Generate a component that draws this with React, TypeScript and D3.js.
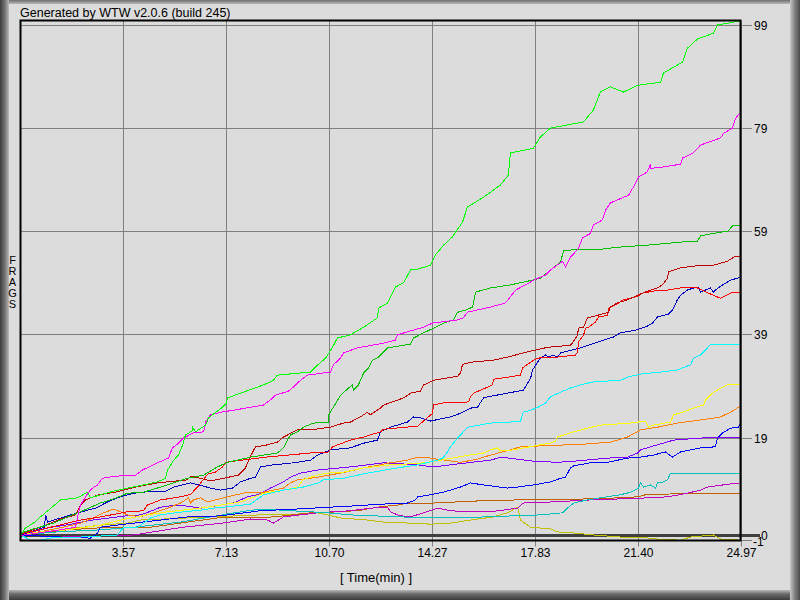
import React from 'react';
import * as d3 from 'd3';

type Pt = [number, number];

const timeTicks = [3.57, 7.13, 10.7, 14.27, 17.83, 21.4, 24.97];
const fragTicks = [99, 79, 59, 39, 19];
const timeMax = 24.97;

const brightGreenData: Pt[] = [
  [0, 0], [0.17, 1.45], [0.45, 2.4], [0.69, 3.6], [1.14, 5.7], [1.39, 6.9], [1.98, 7.3], [2.32, 8.4], [2.43, 7.3],
  [2.77, 7.9], [3.23, 8.6], [3.71, 9.2], [4.27, 9.8], [4.75, 10.4], [5.03, 11.1], [5.1, 12.7], [5.31, 14.6],
  [5.48, 15.6], [5.62, 17.5], [5.72, 19.5], [5.96, 20.3], [5.97, 21.0], [6.07, 20.1], [6.42, 21.4], [6.52, 22.8],
  [7.01, 24.9], [7.14, 25.7], [7.18, 26.7], [8.43, 29.2], [8.77, 30.1], [8.91, 31.1], [10.06, 31.7], [10.23, 32.7],
  [10.58, 34.4], [10.82, 36.5], [10.99, 38.3], [11.44, 38.9], [11.9, 40.4], [12.38, 42.2], [12.42, 44.1],
  [12.73, 45.1], [13.01, 48.2], [13.28, 49.0], [13.53, 51.5], [13.8, 51.7], [14.22, 52.4], [14.39, 54.4],
  [14.67, 56.3], [14.98, 57.9], [15.33, 60.8], [15.5, 63.7], [16.06, 65.6], [16.65, 68.0], [16.92, 69.9],
  [16.99, 74.2], [17.79, 75.1], [18.03, 77.3], [18.38, 79.0], [19.52, 80.2], [19.87, 82.5], [20.11, 86.0],
  [20.46, 87.0], [20.91, 86.0], [21.4, 87.3], [22.2, 87.9], [22.3, 89.7], [22.96, 91.8], [23.13, 94.5],
  [23.48, 96.3], [24.03, 97.4], [24.17, 99.0], [24.97, 99.8],
];

const magentaData: Pt[] = [
  [0, 0], [1.39, 1.1], [1.91, 1.6], [1.98, 3.6], [2.08, 5.9], [2.36, 8.4], [2.5, 9.2], [2.67, 9.8], [2.84, 11.1],
  [3.29, 11.5], [3.99, 11.7], [4.23, 12.7], [4.79, 14.2], [5.13, 15.0], [5.27, 17.0], [5.48, 17.9], [5.65, 18.9],
  [6.0, 19.9], [6.35, 20.1], [6.42, 22.0], [6.59, 23.4], [6.94, 23.9], [7.39, 24.3], [8.43, 25.3], [8.67, 26.3],
  [8.84, 27.2], [9.29, 28.0], [9.47, 28.8], [9.71, 30.1], [9.95, 31.1], [10.75, 31.7], [10.85, 33.1], [11.1, 34.4],
  [11.2, 35.4], [11.69, 36.4], [12.59, 37.3], [13.0, 37.9], [13.07, 38.9], [13.42, 39.5], [13.98, 40.4],
  [14.29, 41.2], [15.16, 41.8], [15.36, 42.2], [15.5, 43.3], [16.3, 44.3], [16.82, 45.1], [17.17, 47.6],
  [17.51, 48.6], [17.86, 49.7], [18.21, 50.5], [18.38, 51.5], [18.8, 53.2], [18.9, 52.1], [19.07, 54.0],
  [19.18, 54.6], [19.35, 55.7], [19.49, 57.7], [19.77, 58.6], [19.87, 60.2], [20.18, 61.2], [20.29, 63.1],
  [20.46, 64.5], [21.09, 66.0], [21.33, 68.3], [21.43, 69.5], [21.74, 70.5], [21.85, 72.0], [21.86, 71.2],
  [22.2, 71.4], [22.89, 72.0], [22.96, 73.2], [23.34, 74.2], [23.58, 75.7], [24.28, 77.1], [24.38, 78.0],
  [24.69, 79.0], [24.8, 80.9], [24.97, 82.1],
];

const darkGreenData: Pt[] = [
  [0, 0.5], [0.59, 1.5], [1.14, 2.4], [1.63, 3.6], [2.08, 4.6], [2.77, 6.3], [3.23, 7.1], [3.71, 8.2], [4.27, 8.4],
  [5.1, 9.8], [5.79, 11.1], [6.35, 11.7], [6.83, 13.3], [7.18, 14.2], [7.98, 15.2], [8.91, 16.0], [9.12, 17.0],
  [9.36, 19.5], [9.61, 20.1], [9.81, 21.0], [10.16, 21.8], [10.68, 22.0], [10.69, 23.4], [10.85, 24.9],
  [11.1, 27.2], [11.38, 28.6], [11.51, 29.2], [11.55, 28.2], [11.72, 29.2], [11.9, 31.5], [12.07, 32.5],
  [12.21, 34.0], [12.42, 34.6], [12.73, 36.4], [13.53, 37.1], [13.63, 38.3], [13.98, 39.3], [14.32, 40.2],
  [14.67, 41.2], [15.02, 41.8], [15.16, 43.3], [15.43, 43.7], [15.68, 44.3], [15.78, 47.2], [16.3, 48.0],
  [16.99, 48.6], [17.58, 49.3], [18.03, 49.9], [18.38, 51.5], [18.73, 53.0], [18.83, 55.2], [19.14, 55.4],
  [20.11, 55.5], [20.7, 55.9], [21.74, 56.3], [22.89, 56.9], [23.48, 57.1], [23.58, 58.1], [24.03, 58.6],
  [24.52, 59.0], [24.73, 60.2], [24.97, 60.2],
];

const darkRedData: Pt[] = [
  [0, 0.3], [0.69, 1.6], [1.39, 3.2], [1.91, 4.0], [2.08, 5.9], [2.25, 6.9], [2.71, 7.9], [3.29, 8.4], [3.99, 9.4],
  [4.75, 10.2], [5.79, 10.8], [5.9, 11.5], [6.24, 11.1], [6.59, 10.6], [7.21, 11.3], [7.56, 11.7], [7.8, 13.1],
  [7.98, 15.4], [8.15, 17.2], [8.5, 17.5], [8.91, 18.1], [9.12, 19.1], [9.61, 20.5], [10.06, 20.5], [10.75, 21.0],
  [11.2, 21.8], [11.44, 22.0], [11.79, 23.0], [12.03, 23.9], [12.14, 23.4], [12.21, 23.7], [12.48, 24.7],
  [12.59, 25.3], [13.11, 26.3], [13.35, 26.9], [13.53, 27.6], [13.87, 28.0], [13.98, 29.2], [14.22, 29.8],
  [14.32, 30.1], [15.16, 30.9], [15.26, 31.5], [15.33, 33.2], [15.61, 33.6], [16.4, 34.0], [16.89, 34.6],
  [17.58, 35.6], [18.28, 36.5], [19.07, 36.9], [19.14, 37.3], [19.32, 38.9], [19.35, 40.2], [19.53, 40.4],
  [19.66, 42.2], [20.01, 42.7], [20.39, 43.3], [20.46, 44.3], [20.7, 45.1], [21.05, 45.7], [21.4, 46.6],
  [21.85, 47.6], [22.09, 48.0], [22.26, 48.6], [22.44, 49.9], [22.47, 51.1], [22.89, 51.9], [23.58, 52.4],
  [24.03, 52.4], [24.52, 53.2], [24.8, 54.2], [24.97, 54.2],
];

const redData: Pt[] = [
  [0, 0.3], [1.04, 1.6], [2.08, 3.0], [2.77, 3.6], [3.71, 4.6], [4.27, 4.8], [4.4, 5.9], [4.86, 6.9], [5.55, 7.5],
  [5.9, 8.0], [6.14, 9.4], [6.49, 11.9], [6.76, 12.3], [7.01, 13.3], [7.11, 14.2], [8.5, 15.2], [10.06, 16.0],
  [10.68, 16.2], [10.82, 17.2], [11.44, 18.5], [11.9, 19.1], [12.48, 20.1], [12.59, 20.6], [13.77, 21.2],
  [13.94, 22.0], [14.29, 23.7], [14.32, 25.3], [14.67, 25.7], [15.54, 25.9], [15.61, 26.9], [15.71, 27.6],
  [16.37, 29.2], [16.4, 30.3], [16.89, 30.7], [17.34, 31.1], [17.41, 32.5], [17.69, 33.6], [17.93, 34.4],
  [18.62, 34.6], [19.25, 35.0], [19.32, 35.6], [19.35, 37.5], [19.53, 38.9], [19.59, 40.2], [19.7, 40.4],
  [19.94, 41.4], [20.05, 42.4], [20.36, 42.7], [20.39, 44.1], [20.63, 44.7], [20.91, 45.7], [21.4, 46.4],
  [21.57, 47.0], [21.95, 47.4], [22.44, 47.6], [22.89, 48.0], [23.48, 48.0], [23.86, 47.0], [24.28, 46.0],
  [24.69, 47.2], [24.97, 47.2],
];

const blueData: Pt[] = [
  [0, 0.1], [0.83, 1.6], [0.87, 4.0], [0.94, 2.6], [1.28, 3.2], [1.98, 4.4], [2.6, 5.3], [3.02, 6.5], [3.36, 7.3],
  [3.71, 7.9], [4.16, 8.4], [5.03, 8.6], [5.31, 9.4], [5.9, 10.2], [6.59, 9.2], [6.94, 8.8], [7.35, 9.2],
  [7.63, 10.4], [7.98, 11.1], [8.15, 11.3], [8.32, 13.3], [8.77, 13.7], [9.47, 14.1], [10.06, 14.6], [10.3, 15.6],
  [10.75, 16.6], [11.44, 17.0], [11.9, 17.9], [12.38, 18.5], [12.48, 20.1], [12.83, 21.0], [13.42, 22.0],
  [13.63, 23.0], [13.87, 22.8], [14.22, 22.2], [14.57, 22.6], [14.91, 23.0], [15.26, 23.7], [15.61, 24.7],
  [15.85, 24.9], [16.06, 26.7], [16.2, 26.9], [16.89, 27.6], [17.44, 28.2], [17.69, 30.5], [17.76, 32.1],
  [17.93, 33.6], [18.03, 34.4], [18.21, 35.0], [18.31, 34.6], [18.48, 35.0], [18.62, 34.6], [18.73, 35.4],
  [19.42, 36.4], [20.01, 37.5], [20.57, 38.5], [20.81, 39.3], [21.33, 39.8], [21.74, 40.6], [21.92, 41.2],
  [22.09, 42.4], [22.47, 42.9], [22.61, 43.7], [22.78, 45.7], [22.89, 46.6], [23.13, 47.6], [23.34, 48.0],
  [23.51, 48.0], [23.58, 47.2], [23.93, 48.0], [24.03, 47.2], [24.1, 47.6], [24.35, 48.6], [24.62, 49.5],
  [24.97, 50.1],
];

const cyanData: Pt[] = [
  [0, 0.1], [0.35, -0.9], [0.69, -0.9], [1.21, -0.3], [2.08, -0.3], [2.77, -0.1], [3.36, 0.1], [3.57, 1.5],
  [4.06, 1.6], [4.27, 2.4], [4.51, 3.4], [4.86, 4.0], [5.65, 4.6], [6.24, 4.9], [6.69, 5.3], [7.39, 5.7],
  [7.98, 6.1], [8.43, 7.9], [9.12, 8.8], [9.81, 9.4], [10.33, 10.2], [10.51, 10.8], [11.2, 11.1], [12.03, 12.1],
  [13.07, 13.1], [13.77, 13.7], [14.46, 14.6], [14.64, 15.0], [14.81, 16.2], [14.91, 17.2], [15.19, 19.1],
  [15.36, 20.1], [15.5, 21.0], [16.3, 21.8], [16.99, 22.0], [17.34, 22.2], [17.44, 23.9], [17.69, 24.3],
  [17.96, 24.9], [18.21, 25.7], [18.38, 26.9], [18.73, 27.8], [19.07, 28.6], [19.42, 29.2], [19.87, 29.8],
  [20.81, 30.1], [21.05, 30.7], [21.5, 31.3], [22.2, 31.7], [22.78, 32.1], [23.24, 33.1], [23.34, 34.4],
  [23.58, 35.0], [23.83, 36.4], [23.93, 37.1], [24.97, 37.1],
];

const yellowData: Pt[] = [
  [0, 0.1], [0.69, 0.7], [1.63, 1.1], [2.77, 2.0], [3.47, 3.0], [4.4, 4.0], [5.1, 4.6], [6.24, 5.3], [7.63, 6.5],
  [8.43, 8.2], [9.12, 8.8], [9.64, 9.4], [9.78, 10.8], [10.3, 11.7], [10.65, 12.1], [11.2, 12.3], [11.9, 13.1],
  [12.83, 13.7], [13.53, 13.9], [13.98, 14.1], [14.57, 14.6], [15.36, 15.4], [16.06, 16.0], [16.3, 16.6],
  [16.54, 17.0], [16.65, 16.4], [17.1, 16.6], [17.93, 17.5], [18.38, 17.9], [18.55, 18.3], [18.62, 19.1],
  [19.18, 20.1], [19.66, 20.8], [20.11, 21.4], [21.16, 21.8], [21.68, 22.2], [21.78, 21.0], [21.95, 21.4],
  [22.54, 22.0], [22.65, 23.4], [22.96, 23.9], [23.34, 24.7], [23.69, 25.3], [23.76, 26.3], [24.0, 27.6],
  [24.28, 28.6], [24.52, 29.2], [24.97, 29.2],
];

const orangeData: Pt[] = [
  [0, 0.1], [1.04, 1.1], [1.63, 1.8], [2.08, 2.4], [2.53, 3.4], [2.88, 4.4], [3.23, 5.1], [3.47, 4.6], [3.71, 4.0],
  [4.16, 3.6], [4.61, 4.4], [5.1, 5.3], [5.55, 6.3], [5.83, 7.3], [5.9, 6.3], [6.0, 6.9], [6.24, 7.3], [6.49, 6.5],
  [7.18, 7.5], [7.87, 8.4], [8.43, 8.4], [9.12, 9.2], [9.36, 10.2], [9.61, 10.8], [10.3, 11.3], [11.1, 12.1],
  [11.9, 13.1], [12.83, 14.1], [13.42, 14.6], [13.77, 15.2], [13.98, 15.2], [14.46, 14.8], [15.26, 14.2],
  [15.85, 14.8], [16.3, 15.6], [16.99, 16.6], [17.34, 17.2], [18.14, 17.4], [19.52, 17.7], [20.46, 18.1],
  [21.05, 19.1], [21.33, 19.9], [21.5, 20.5], [22.09, 21.0], [22.78, 21.8], [23.83, 22.6], [24.28, 23.0],
  [24.62, 23.9], [24.97, 25.1],
];

const purpleData: Pt[] = [
  [0, 0.1], [0.97, 1.5], [1.56, 2.0], [2.5, 3.0], [3.64, 3.8], [4.16, 4.0], [4.61, 4.9], [4.86, 5.5], [5.38, 5.9],
  [5.79, 5.7], [6.24, 5.3], [6.94, 5.9], [7.39, 6.3], [7.87, 7.5], [8.22, 7.9], [8.67, 9.2], [9.12, 10.4],
  [9.36, 11.3], [9.71, 12.1], [10.3, 12.7], [11.44, 13.3], [12.59, 14.1], [13.77, 13.7], [14.32, 13.3],
  [15.5, 14.1], [16.3, 14.6], [16.65, 15.2], [17.79, 14.4], [18.62, 14.2], [19.18, 14.4], [20.36, 15.0],
  [21.05, 15.2], [21.4, 16.0], [21.5, 16.6], [21.85, 17.2], [22.65, 18.5], [23.58, 18.9], [24.97, 19.1],
];

const lowerBlueData: Pt[] = [
  [0, 0.1], [1.39, -0.3], [2.43, -0.5], [2.67, 0.5], [2.77, 1.6], [3.92, 2.4], [4.86, 3.0], [5.79, 3.6],
  [6.52, 3.6], [7.21, 4.0], [8.32, 4.8], [9.47, 5.1], [10.75, 5.5], [11.44, 5.7], [12.59, 6.1], [13.42, 6.3],
  [13.7, 6.9], [13.77, 7.5], [14.22, 7.9], [14.67, 8.4], [15.26, 9.4], [15.61, 10.2], [16.06, 9.8], [16.89, 9.2],
  [17.24, 9.4], [17.79, 9.8], [18.38, 10.4], [18.73, 11.1], [18.9, 11.3], [19.07, 13.1], [19.18, 13.5],
  [19.77, 14.1], [20.36, 14.2], [21.05, 15.0], [21.5, 15.2], [21.95, 15.6], [22.37, 16.2], [22.61, 15.2],
  [22.89, 16.2], [23.58, 17.0], [24.1, 17.2], [24.17, 18.9], [24.35, 19.9], [24.62, 20.8], [24.9, 21.0],
  [24.97, 21.8],
];

const tealData: Pt[] = [
  [0, 0.1], [1.28, 0.7], [2.77, 1.1], [3.92, 1.6], [5.55, 2.6], [7.21, 4.2], [7.98, 4.9], [8.5, 5.1],
  [10.65, 4.4], [11.44, 4.0], [13.18, 3.6], [14.91, 3.4], [16.06, 3.6], [18.03, 4.0], [18.8, 4.4], [18.97, 5.3],
  [19.18, 6.3], [19.66, 6.9], [20.11, 7.3], [20.81, 7.9], [21.16, 8.4], [21.43, 9.2], [21.5, 10.2], [21.61, 9.4],
  [21.85, 9.8], [22.02, 9.2], [22.09, 10.2], [22.2, 10.2], [22.44, 10.8], [22.54, 12.1], [24.97, 12.1],
];

const darkMagentaData: Pt[] = [
  [0, 0.1], [1.39, -0.3], [2.77, -0.1], [3.92, 0.1], [5.62, 1.6], [7.01, 2.4], [7.98, 3.2], [8.57, 3.0],
  [8.77, 2.4], [9.12, 3.6], [10.3, 4.4], [10.85, 4.6], [11.44, 4.8], [12.14, 5.3], [12.73, 5.5], [12.83, 4.6],
  [13.07, 4.0], [13.42, 3.6], [13.63, 3.8], [13.98, 4.4], [14.46, 5.3], [14.91, 4.8], [15.5, 4.6], [16.3, 4.6],
  [17.24, 5.3], [17.44, 6.3], [18.38, 6.5], [19.77, 6.9], [20.81, 7.1], [21.74, 7.3], [22.44, 7.5], [23.13, 8.2],
  [23.58, 8.8], [23.83, 9.4], [24.62, 10.0], [24.97, 10.2],
];

const brownData: Pt[] = [
  [0, 0.1], [1.63, 1.1], [2.77, 1.5], [4.51, 1.6], [5.79, 2.6], [6.83, 3.4], [8.32, 3.4], [9.12, 3.8],
  [10.06, 4.4], [11.1, 4.6], [11.79, 4.9], [12.38, 5.5], [13.07, 5.9], [13.42, 6.3], [14.32, 6.3], [15.85, 6.7],
  [17.24, 6.9], [19.77, 7.1], [20.7, 7.3], [21.4, 7.5], [21.74, 8.0], [24.97, 8.2],
];

const oliveData: Pt[] = [
  [0, 0.1], [1.39, 1.1], [2.77, 2.0], [3.71, 2.4], [4.16, 3.0], [6.59, 3.6], [8.32, 4.0], [9.12, 4.0],
  [10.3, 4.4], [10.65, 4.0], [11.1, 3.4], [12.03, 3.0], [12.59, 2.6], [13.53, 2.4], [14.22, 2.2], [14.91, 2.4],
  [15.61, 3.0], [16.4, 3.6], [16.89, 4.4], [17.24, 5.5], [17.34, 3.0], [17.69, 1.6], [18.38, 1.3], [18.62, 0.7],
  [19.18, 0.5], [19.87, 0.1], [20.81, -0.3], [21.5, -0.3], [22.09, -0.7], [22.89, -0.9], [23.24, -0.3],
  [24.03, 0.1], [24.28, -0.7], [24.97, -0.9],
];

const seriesList: { color: string; data: Pt[] }[] = [
  { color: '#c0c000', data: oliveData },
  { color: '#c06000', data: brownData },
  { color: '#c000c0', data: darkMagentaData },
  { color: '#00c0c0', data: tealData },
  { color: '#0000ff', data: lowerBlueData },
  { color: '#8000ff', data: purpleData },
  { color: '#ff8000', data: orangeData },
  { color: '#ffff00', data: yellowData },
  { color: '#00ffff', data: cyanData },
  { color: '#0000c0', data: blueData },
  { color: '#ff0000', data: redData },
  { color: '#c00000', data: darkRedData },
  { color: '#00c000', data: darkGreenData },
  { color: '#ff00ff', data: magentaData },
  { color: '#00ff00', data: brightGreenData },
];

export default function App() {
  const W = 800;
  const H = 600;
  const left = 20.5;
  const right = 740.5;
  const top = 20.5;
  const bottom = 540.5;
  const x = d3.scaleLinear().domain([0, timeMax]).range([left, right]);
  const y = d3.scaleLinear().domain([-1, 100]).range([540.66, 19.84]);
  const line = d3
    .line<Pt>()
    .x((d) => x(d[0]))
    .y((d) => y(d[1]));
  const font = '"Liberation Sans", Arial, Helvetica, sans-serif';
  const yr = (v: number) => Math.round(y(v)) + 0.5;
  const xr = (v: number) => Math.round(x(v)) + 0.5;

  return (
    <svg
      width={W}
      height={H}
      style={{ position: 'absolute', left: 0, top: 0, display: 'block' }}
      fontFamily={font}
    >
      <defs>
        <linearGradient id="gl" x1="0" x2="1" y1="0" y2="0">
          <stop offset="0" stopColor="#3c3c3c" />
          <stop offset="0.6" stopColor="#7a7a7a" />
          <stop offset="1" stopColor="#bcbcbc" />
        </linearGradient>
        <linearGradient id="gr" x1="0" x2="1" y1="0" y2="0">
          <stop offset="0" stopColor="#c8c8c8" />
          <stop offset="0.4" stopColor="#8a8a8a" />
          <stop offset="1" stopColor="#4a4a4a" />
        </linearGradient>
        <linearGradient id="gt" x1="0" x2="0" y1="0" y2="1">
          <stop offset="0" stopColor="#6e6e6e" />
          <stop offset="1" stopColor="#b8b8b8" />
        </linearGradient>
        <linearGradient id="gb" x1="0" x2="0" y1="0" y2="1">
          <stop offset="0" stopColor="#b8b8b8" />
          <stop offset="0.4" stopColor="#6a6a6a" />
          <stop offset="1" stopColor="#3c3c3c" />
        </linearGradient>
      </defs>
      <rect x={0} y={0} width={W} height={H} fill="#dcdcdc" />
      {/* bevel frame */}
      <rect x={0} y={0} width={W} height={4} fill="url(#gt)" />
      <rect x={0} y={590} width={W} height={10} fill="url(#gb)" />
      <rect x={0} y={0} width={9} height={H} fill="url(#gl)" />
      <rect x={790} y={0} width={10} height={H} fill="url(#gr)" />

      {/* vertical grid */}
      {timeTicks.map((t) => (
        <line key={'vx' + t} x1={xr(t)} x2={xr(t)} y1={top} y2={bottom + 6} stroke="#808080" strokeWidth={1} />
      ))}
      {/* horizontal grid + right ticks */}
      {fragTicks.map((v) => (
        <line key={'hy' + v} x1={left} x2={752} y1={yr(v)} y2={yr(v)} stroke="#808080" strokeWidth={1} />
      ))}
      <line x1={right} x2={752} y1={bottom} y2={bottom} stroke="#808080" strokeWidth={1} />
      {/* zero line */}
      <line x1={left} x2={760} y1={y(0)} y2={y(0)} stroke="#404040" strokeWidth={3} />

      {/* series */}
      <g fill="none" strokeWidth={1} shapeRendering="crispEdges">
        {seriesList.map((s, i) => (
          <path key={i} d={line(s.data) || ''} stroke={s.color} />
        ))}
      </g>

      {/* frame */}
      <rect x={left} y={top} width={right - left} height={bottom - top} fill="none" stroke="#000" strokeWidth={2} />

      {/* y labels */}
      {fragTicks.map((v) => (
        <text key={'ty' + v} x={754} y={yr(v) + 4} fontSize={12} fill="#000">
          {v}
        </text>
      ))}
      <text x={761} y={y(0) + 4} fontSize={12} fill="#000">0</text>
      <text x={753} y={bottom + 5} fontSize={12} fill="#000">-1</text>

      {/* x labels */}
      {timeTicks.map((t) => (
        <text key={'tx' + t} x={xr(t)} y={557} fontSize={12} textAnchor="middle" fill="#000">
          {t.toFixed(2)}
        </text>
      ))}
      <text x={376} y={582} fontSize={13} textAnchor="middle" fill="#000">
        [ Time(min) ]
      </text>
      {'FRAGS'.split('').map((c, i) => (
        <text key={'f' + i} x={12.5} y={264 + i * 11} fontSize={11} textAnchor="middle" fill="#000">
          {c}
        </text>
      ))}
      <text x={20} y={17} fontSize={12.5} fill="#000">
        Generated by WTW v2.0.6 (build 245)
      </text>
    </svg>
  );
}
